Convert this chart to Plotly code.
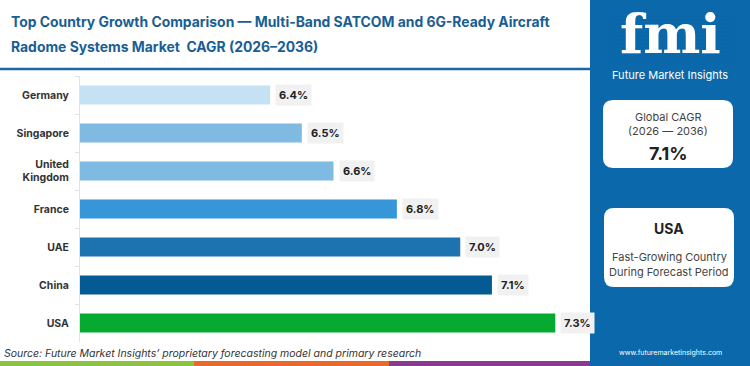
import plotly.graph_objects as go

countries = ["Germany", "Singapore", "United<br>Kingdom", "France", "UAE", "China", "USA"]
cagr = [6.4, 6.5, 6.6, 6.8, 7.0, 7.1, 7.3]
bar_colors = ["#c6e1f4", "#7fbae3", "#7fbae3", "#3796d8", "#1c73af", "#045a92", "#07aa31"]
value_labels = ["6.4%", "6.5%", "6.6%", "6.8%", "7.0%", "7.1%", "7.3%"]

title_lines = ["Top Country Growth Comparison — Multi-Band SATCOM and 6G-Ready Aircraft",
               "Radome Systems Market  CAGR (2026–2036)"]
global_cagr = "7.1%"
top_country = "USA"
source = "Source: Future Market Insights’ proprietary forecasting model and primary research"

W, H = 750, 366
def px(x): return x / W
def py(y): return 1 - y / H

fig = go.Figure()
fig.add_trace(go.Bar(
    x=cagr, y=countries, orientation="h",
    marker=dict(color=bar_colors, line=dict(width=0)),
    width=0.5, hoverinfo="skip",
))

annotations = []
for c, v, lab in zip(countries, cagr, value_labels):
    annotations.append(dict(x=v, y=c, xref="x", yref="y", text="<b>%s</b>" % lab,
                            showarrow=False, xanchor="left", xshift=5,
                            font=dict(family="Inter, Open Sans, sans-serif", size=11, color="#222"),
                            bgcolor="#f1f1f1", borderpad=3))

font_main = "Inter, Open Sans, sans-serif"
annotations += [
    dict(x=px(9), y=py(22), xref="paper", yref="paper", xanchor="left", yanchor="middle",
         text="<b>%s</b>" % title_lines[0], showarrow=False,
         font=dict(family=font_main, size=13.9, color="#195e93")),
    dict(x=px(9), y=py(47), xref="paper", yref="paper", xanchor="left", yanchor="middle",
         text="<b>%s</b>" % title_lines[1], showarrow=False,
         font=dict(family=font_main, size=13.9, color="#195e93")),
    dict(x=px(2), y=py(353), xref="paper", yref="paper", xanchor="left", yanchor="middle",
         text="<i>%s</i>" % source, showarrow=False,
         font=dict(family=font_main, size=10.5, color="#333")),
    # logo
    dict(x=px(670), y=py(34), xref="paper", yref="paper", xanchor="center", yanchor="middle",
         text="<b>fmi</b>", showarrow=False,
         font=dict(family="DejaVu Serif", size=54, color="white")),
    dict(x=px(670), y=py(75), xref="paper", yref="paper", xanchor="center", yanchor="middle",
         text="Future Market Insights", showarrow=False,
         font=dict(family=font_main, size=11, color="white")),
    # box 1
    dict(x=px(668), y=py(117), xref="paper", yref="paper", xanchor="center", yanchor="middle",
         text="Global CAGR", showarrow=False, font=dict(family=font_main, size=11, color="#444")),
    dict(x=px(668), y=py(131), xref="paper", yref="paper", xanchor="center", yanchor="middle",
         text="(2026 — 2036)", showarrow=False, font=dict(family=font_main, size=11, color="#444")),
    dict(x=px(668), y=py(153), xref="paper", yref="paper", xanchor="center", yanchor="middle",
         text="<b>%s</b>" % global_cagr, showarrow=False, font=dict(family=font_main, size=18, color="#222")),
    # box 2
    dict(x=px(669), y=py(228), xref="paper", yref="paper", xanchor="center", yanchor="middle",
         text="<b>%s</b>" % top_country, showarrow=False, font=dict(family=font_main, size=14, color="#222")),
    dict(x=px(669), y=py(257), xref="paper", yref="paper", xanchor="center", yanchor="middle",
         text="Fast-Growing Country", showarrow=False, font=dict(family=font_main, size=11, color="#444")),
    dict(x=px(669), y=py(272), xref="paper", yref="paper", xanchor="center", yanchor="middle",
         text="During Forecast Period", showarrow=False, font=dict(family=font_main, size=11, color="#444")),
    dict(x=px(670), y=py(352), xref="paper", yref="paper", xanchor="center", yanchor="middle",
         text="www.futuremarketinsights.com", showarrow=False, font=dict(family=font_main, size=7, color="white")),
]

def rounded(x0, y0, x1, y1, r):
    rx, ry = r / W, r / H
    X0, X1 = px(x0), px(x1)
    Y0, Y1 = py(y0), py(y1)  # Y0 top, Y1 bottom
    return ("M %f %f L %f %f Q %f %f %f %f L %f %f Q %f %f %f %f L %f %f Q %f %f %f %f L %f %f Q %f %f %f %f Z" % (
        X0 + rx, Y0, X1 - rx, Y0, X1, Y0, X1, Y0 - ry, X1, Y1 + ry, X1, Y1, X1 - rx, Y1,
        X0 + rx, Y1, X0, Y1, X0, Y1 + ry, X0, Y0 - ry, X0, Y0, X0 + rx, Y0))

shapes = [
    dict(type="rect", xref="paper", yref="paper", x0=px(590), x1=1, y0=0, y1=1,
         fillcolor="#0b68aa", line=dict(width=0), layer="below"),
    dict(type="line", xref="paper", yref="paper", x0=0, x1=px(590), y0=py(69), y1=py(69),
         line=dict(color="#1b67a2", width=2.5)),
    dict(type="path", xref="paper", yref="paper", path=rounded(603, 100, 733, 168, 10),
         fillcolor="white", line=dict(width=0)),
    dict(type="path", xref="paper", yref="paper", path=rounded(604, 208, 734, 287, 10),
         fillcolor="white", line=dict(width=0)),
    dict(type="rect", xref="paper", yref="paper", x0=0, x1=px(194), y0=0, y1=py(361),
         fillcolor="#8cc43f", line=dict(width=0)),
    dict(type="rect", xref="paper", yref="paper", x0=px(194), x1=px(389), y0=0, y1=py(361),
         fillcolor="#e9692c", line=dict(width=0)),
    dict(type="rect", xref="paper", yref="paper", x0=px(389), x1=px(590), y0=0, y1=py(361),
         fillcolor="#8a3b8f", line=dict(width=0)),
]
# logo stripes
for yy in range(16, 62, 4):
    shapes.append(dict(type="line", xref="paper", yref="paper", x0=px(610), x1=px(732),
                       y0=py(yy), y1=py(yy), line=dict(color="#0b68aa", width=1)))

fig.update_layout(
    width=W, height=H, margin=dict(l=0, r=0, t=0, b=0),
    paper_bgcolor="white", plot_bgcolor="white", showlegend=False,
    xaxis=dict(domain=[px(80), px(587)], range=[5.8, 7.4], visible=False, fixedrange=True),
    yaxis=dict(domain=[py(342), py(76)], autorange="reversed", showline=True, linecolor="#e3e3e3",
               linewidth=1, ticks="outside", tickson="boundaries", ticklen=4, tickcolor="#e3e3e3",
               tickfont=dict(family=font_main, size=10.5, color="#333"), showgrid=False,
               ticklabelstandoff=8, fixedrange=True),
    annotations=annotations, shapes=shapes, bargap=0.5,
)
fig.update_yaxes(tickprefix="<b>", ticksuffix="</b>")

fig.write_html("out.html", config={"displayModeBar": False, "staticPlot": True},
               post_script="document.body.style.margin='0';document.body.style.overflow='hidden';")
